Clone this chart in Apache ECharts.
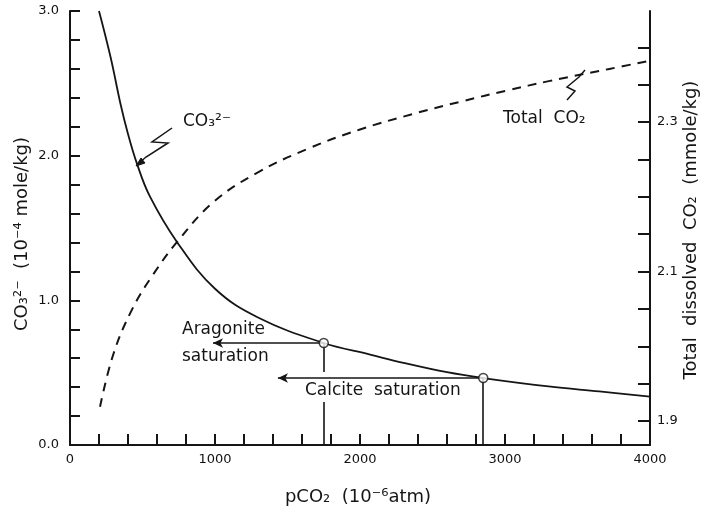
<!DOCTYPE html>
<html>
<head>
<meta charset="utf-8">
<script src="https://cdn.jsdelivr.net/npm/echarts@6/dist/echarts.min.js"></script>
<style>html,body{margin:0;padding:0;background:#fff}#chart{width:701px;height:510px}</style>
</head>
<body>
<div id="chart"></div>
<script>
// CO3^2- curve (left axis, 10^-4 mole/kg) vs pCO2 (10^-6 atm)
const pco2Carbonate = [200, 280, 350, 400, 460, 550, 740, 1000, 1300, 1750, 2070, 2300, 2600, 2850, 3300, 3650, 4000];
const carbonate     = [3.00, 2.68, 2.35, 2.15, 1.95, 1.72, 1.40, 1.08, 0.88, 0.705, 0.625, 0.568, 0.503, 0.463, 0.405, 0.370, 0.334];
// Total dissolved CO2 (right axis, mmole/kg)
const pco2Total = [207, 300, 430, 570, 740, 990, 1290, 1650, 2000, 2370, 2710, 3010, 3310, 3720, 4000];
const totalCO2  = [1.919, 1.990, 2.050, 2.095, 2.140, 2.193, 2.232, 2.265, 2.290, 2.311, 2.328, 2.342, 2.355, 2.371, 2.382];
// saturation points: aragonite, calcite
const saturationNames = ['Aragonite', 'Calcite'];
const saturationPco2 = [1750, 2850];
const saturationCarbonate = [0.705, 0.463];
const arrowEndPco2 = [986, 1434];
const aragoniteGap = [0.297, 0.505];
// tick labels
const xTickLabels = [0, 1000, 2000, 3000, 4000];
const leftTickLabels = [0, 1, 2, 3];
const rightTickLabels = [1.9, 2.1, 2.3];
const rightTickValues = [1.9, 1.95, 2.0, 2.05, 2.1, 2.15, 2.2, 2.25, 2.3, 2.35, 2.4];

const FONT = 'DejaVu Sans';
const INK = '#151515';

const chart = echarts.init(document.getElementById('chart'), null, {renderer: 'canvas'});

const carbData = pco2Carbonate.map((x, i) => [x, carbonate[i]]);
const totalData = pco2Total.map((x, i) => [x, totalCO2[i]]);
const satData = saturationPco2.map((x, i) => [x, saturationCarbonate[i]]);

const lineSeg = (a, b, endSym) => [
  {coord: a, symbol: 'none'},
  {coord: b, symbol: endSym || 'none'}
];

const markData = [
  lineSeg([saturationPco2[0], saturationCarbonate[0]], [arrowEndPco2[0], saturationCarbonate[0]], 'arrow'),
  lineSeg([saturationPco2[1], saturationCarbonate[1]], [arrowEndPco2[1], saturationCarbonate[1]], 'arrow'),
  lineSeg([saturationPco2[0], saturationCarbonate[0]], [saturationPco2[0], aragoniteGap[1]]),
  lineSeg([saturationPco2[0], aragoniteGap[0]], [saturationPco2[0], 0]),
  lineSeg([saturationPco2[1], saturationCarbonate[1]], [saturationPco2[1], 0])
];

const labelStyle = {color: '#111', fontFamily: FONT, fontSize: 13};

const option = {
  animation: false,
  backgroundColor: '#fff',
  grid: {left: 70, right: 51, top: 11, bottom: 65, containLabel: false},
  xAxis: {
    type: 'value', min: 0, max: 4000, interval: 200,
    axisLine: {show: true, onZero: false, lineStyle: {color: INK, width: 2}},
    axisTick: {show: true, inside: true, length: 11, lineStyle: {color: INK, width: 2}},
    splitLine: {show: false},
    axisLabel: Object.assign({}, labelStyle, {
      margin: 8,
      formatter: v => xTickLabels.includes(v) ? String(v) : ''
    })
  },
  yAxis: [
    {
      type: 'value', min: 0, max: 3, interval: 0.2, position: 'left',
      axisLine: {show: true, lineStyle: {color: INK, width: 2}},
      axisTick: {show: true, inside: true, length: 10, lineStyle: {color: INK, width: 2}},
      splitLine: {show: false},
      axisLabel: Object.assign({}, labelStyle, {
        margin: 11,
        formatter: v => {
          const r = Math.round(v);
          return (Math.abs(v - r) < 1e-6 && leftTickLabels.includes(r)) ? r.toFixed(1) : '';
        }
      })
    },
    {
      type: 'value', min: 1.8679, max: 2.4485, position: 'right',
      axisLine: {show: true, lineStyle: {color: INK, width: 2}},
      axisTick: {show: true, inside: true, length: 12, customValues: rightTickValues, lineStyle: {color: INK, width: 2}},
      splitLine: {show: false},
      axisLabel: Object.assign({}, labelStyle, {
        margin: 7,
        customValues: rightTickLabels,
        formatter: v => v.toFixed(1)
      })
    }
  ],
  series: [
    {
      name: 'CO3', type: 'line', yAxisIndex: 0, data: carbData,
      smooth: 0.4, symbol: 'none', silent: true,
      lineStyle: {color: INK, width: 1.8}
    },
    {
      name: 'Total CO2', type: 'line', yAxisIndex: 1, data: totalData,
      smooth: 0.4, symbol: 'none', silent: true,
      lineStyle: {color: INK, width: 2, type: [9, 7]}
    },
    {
      name: 'saturation', type: 'scatter', yAxisIndex: 0, data: satData,
      symbol: 'circle', symbolSize: 9, silent: true, z: 5,
      itemStyle: {color: '#fff', borderColor: INK, borderWidth: 1.5},
      markLine: {
        silent: true, symbolSize: [7, 10], animation: false,
        label: {show: false},
        lineStyle: {color: INK, width: 1.6, type: 'solid'},
        emphasis: {disabled: true},
        data: markData
      }
    }
  ],
  graphic: [
    {type: 'text', x: 22, y: 234, rotation: Math.PI / 2,
      style: {text: 'CO₃²⁻  (10⁻⁴ mole/kg)', font: '18px ' + FONT, fill: INK,
        align: 'center', verticalAlign: 'middle', textAlign: 'center', textVerticalAlign: 'middle'}},
    {type: 'text', x: 691, y: 230, rotation: Math.PI / 2,
      style: {text: 'Total  dissolved  CO₂  (mmole/kg)', font: '18px ' + FONT, fill: INK,
        align: 'center', verticalAlign: 'middle', textAlign: 'center', textVerticalAlign: 'middle'}},
    {type: 'text', x: 358, y: 497,
      style: {text: 'pCO₂  (10⁻⁶atm)', font: '18px ' + FONT, fill: INK,
        align: 'center', verticalAlign: 'middle', textAlign: 'center', textVerticalAlign: 'middle'}},
    {type: 'text', x: 182, y: 330,
      style: {text: 'Aragonite', font: '17px ' + FONT, fill: INK,
        align: 'left', verticalAlign: 'middle', textAlign: 'left', textVerticalAlign: 'middle'}},
    {type: 'text', x: 182, y: 357,
      style: {text: 'saturation', font: '17px ' + FONT, fill: INK,
        align: 'left', verticalAlign: 'middle', textAlign: 'left', textVerticalAlign: 'middle'}},
    {type: 'text', x: 305, y: 391,
      style: {text: 'Calcite  saturation', font: '17px ' + FONT, fill: INK,
        align: 'left', verticalAlign: 'middle', textAlign: 'left', textVerticalAlign: 'middle'}},
    {type: 'text', x: 183, y: 122,
      style: {text: 'CO₃²⁻', font: '17px ' + FONT, fill: INK,
        align: 'left', verticalAlign: 'middle', textAlign: 'left', textVerticalAlign: 'middle'}},
    {type: 'text', x: 503, y: 119,
      style: {text: 'Total  CO₂', font: '17px ' + FONT, fill: INK,
        align: 'left', verticalAlign: 'middle', textAlign: 'left', textVerticalAlign: 'middle'}},
    {type: 'polyline', shape: {points: [[172, 128], [152, 142], [168, 143], [146, 157], [139, 163]]},
      style: {stroke: INK, lineWidth: 1.5, fill: null}},
    {type: 'polygon', shape: {points: [[136, 166], [141, 158], [145, 163]]},
      style: {fill: INK, stroke: INK, lineWidth: 1}},
    {type: 'polyline', shape: {points: [[567, 100], [575, 91], [567, 87], [579, 77], [585, 70]]},
      style: {stroke: INK, lineWidth: 1.5, fill: null}}
  ]
};
chart.setOption(option);
</script>
</body>
</html>
